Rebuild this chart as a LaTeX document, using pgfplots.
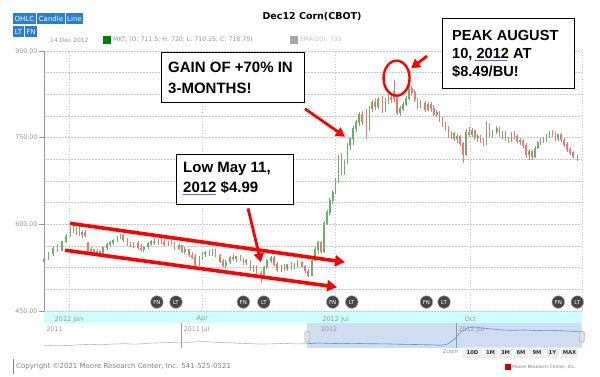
\documentclass[border=0pt]{standalone}
\usepackage{pgfplots}
\pgfplotsset{compat=1.18}
\usepackage{pgfplotstable}
\usetikzlibrary{arrows.meta,plotmarks}
\usepackage{fontspec}
\setmainfont{DejaVu Sans}
\newfontfamily\arial{Liberation Sans}
\definecolor{upc}{RGB}{105,178,105}
\definecolor{dnc}{RGB}{240,118,118}
\definecolor{gridc}{RGB}{200,200,200}
\definecolor{axc}{RGB}{150,150,150}
\definecolor{band}{RGB}{204,255,255}
\definecolor{selblue}{RGB}{206,222,240}
\definecolor{navblue}{RGB}{80,150,230}
\definecolor{btnblue}{RGB}{40,125,215}
\definecolor{mkgray}{RGB}{70,70,70}

\pgfplotstableread{
d o h l c
-17 535 542 532 540
-14 540 552 538 550
-11 550 562 546 558
-5 555 572 553 570
-2 570 583 567 580
1 580 595 578 592
5 588 596 582 594
9 583 590 576 587
15 553 560 548 556
19 549 557 546 554
23 550 562 548 560
26 560 567 556 565
28 565 572 561 569
30 569 575 564 572
33 572 580 570 578
35 578 584 574 581
44 562 569 559 567
51 556 563 552 561
54 561 569 558 567
56 567 573 563 571
61 568 575 565 573
68 565 572 562 570
75 558 566 555 563
79 553 560 548 557
89 531 545 528 542
91 542 552 539 549
93 549 554 544 552
98 548 558 545 555
107 529 538 525 535
110 535 545 532 543
114 541 546 535 544
121 533 540 529 537
126 523 530 518 527
133 510 528 507 526
135 526 540 523 538
138 538 546 533 543
145 521 530 517 527
149 523 532 520 530
154 525 533 522 531
156 531 538 527 535
166 512 540 510 538
168 538 560 536 557
170 557 572 549 568
174 552 605 550 602
176 602 625 598 621
178 621 645 616 641
180 641 660 636 656
182 656 680 652 676
184 676 720 672 716
188 690 712 686 708
190 708 740 705 736
192 736 752 729 748
194 748 770 738 766
196 766 781 760 776
198 776 795 770 791
205 765 805 762 801
207 801 816 795 812
211 803 820 800 816
216 797 818 794 814
218 814 825 808 820
226 794 805 788 801
228 801 812 797 808
230 808 822 804 818
232 818 842 815 836
240 806 815 801 810
245 799 812 796 808
251 790 798 785 794
261 755 762 748 758
265 749 756 740 752
271 720 765 718 760
275 756 766 752 762
279 750 756 742 753
285 740 778 738 770
289 757 764 750 760
292 760 770 756 766
296 756 762 748 759
302 745 760 742 757
308 744 750 738 746
314 720 730 712 726
318 718 735 715 732
320 732 745 730 742
322 742 750 738 746
326 744 756 742 754
328 754 762 750 759
334 748 757 745 755
347 711.5 720 710.25 718.75
}\upTable

\pgfplotstableread{
d o h l c
-8 558 566 552 555
3 592 602 585 588
7 594 597 580 583
11 587 590 578 580
13 568 570 550 553
17 556 558 545 549
21 554 556 547 550
37 581 584 570 573
40 573 576 562 565
42 565 570 560 562
47 567 571 556 559
49 559 566 553 556
58 571 576 565 568
63 573 577 566 569
65 569 574 562 565
70 570 574 564 567
72 567 570 556 558
77 563 565 550 553
82 557 558 544 547
84 547 552 540 543
86 543 548 528 531
96 552 556 545 548
100 555 557 543 546
103 546 549 533 536
105 536 540 526 529
112 543 548 537 541
117 544 547 536 539
119 539 542 530 533
124 537 539 520 523
128 527 530 512 515
131 515 520 499 510
140 543 545 528 531
142 531 534 518 521
147 527 531 519 523
152 530 534 521 525
159 535 537 524 527
161 527 530 516 519
163 519 522 508 512
172 568 572 548 552
186 716 724 686 690
200 791 796 772 778
203 790 800 748 765
209 812 818 798 803
214 816 822 792 797
220 820 826 810 815
222 830 850 812 818
224 818 822 790 794
234 836 840 822 828
236 828 832 812 815
238 815 818 800 806
243 810 813 795 799
247 808 812 795 800
249 800 806 787 790
253 794 797 778 781
255 781 785 768 772
257 772 778 762 766
259 766 770 750 755
263 758 760 745 749
267 752 754 735 740
269 740 742 706 720
273 760 768 752 756
277 762 764 746 750
281 753 755 740 744
283 744 750 736 740
287 770 776 752 757
294 766 768 752 756
298 759 762 744 748
300 748 752 740 745
304 757 762 748 752
306 752 756 740 744
310 746 748 732 736
312 736 740 714 720
316 726 728 712 718
324 746 752 740 744
330 759 764 752 756
332 756 760 744 748
336 755 758 742 746
338 746 749 734 738
340 738 742 726 730
342 730 734 720 724
344 724 727 714 718
}\dnTable

\pgfplotsset{
  candle/.style={only marks, mark=*, mark size=0pt, mark options={draw=none, fill=none},
    error bars/.cd, y dir=both, y explicit, error mark=none,
    error bar style={draw=#1, line width=0.6pt}},
  cbody/.style={only marks, mark=*, mark size=0pt, mark options={draw=none, fill=none},
    error bars/.cd, y dir=both, y explicit, error mark=none,
    error bar style={draw=#1, line width=1.6pt}},
}

\begin{document}
\begin{tikzpicture}[x=1pt,y=1pt]
\useasboundingbox (0,0) rectangle (600,-376);
\fill[white] (0,0) rectangle (600,-376);
% cyan band
\fill[band] (44,-311) rectangle (582,-323);

\begin{axis}[
  at={(44pt,-311pt)}, anchor=south west,
  width=538pt, height=260pt, scale only axis,
  xmin=-17.1, xmax=350.2, ymin=450, ymax=900,
  axis line style={draw=none},
  clip=false,
  xtick={0,91,182,274},
  xticklabels={2012 Jan,Apr,2012 Jul,Oct},
  xmajorgrids,
  ytick={450,600,750,900},
  yticklabels={450.00,600.00,750.00,900.00},
  minor ytick={487.5,525,562.5,637.5,675,712.5,787.5,825,862.5},
  ymajorgrids, yminorgrids,
  grid style={gridc, dash pattern=on 1.5pt off 1.5pt, line width=0.6pt},
  minor grid style={gridc, dash pattern=on 1.5pt off 1.5pt, line width=0.6pt},
  xtick style={draw=none},
  ytick style={axc, line width=0.5pt},
  ytick pos=left, xtick pos=bottom, tick align=outside,
  major tick length=5pt, minor tick length=0pt,
  x tick label style={font=\fontsize{6.5}{7}\selectfont, text=axc, anchor=north, inner sep=0pt},
  y tick label style={font=\fontsize{6.3}{7}\selectfont, text=axc, anchor=east, inner sep=1.5pt},
]
\draw[axc, line width=0.6pt] (rel axis cs:0,0) -- (rel axis cs:0,1);
\draw[gridc, dash pattern=on 1.5pt off 1.5pt, line width=0.6pt] (rel axis cs:1,0) -- (rel axis cs:1,1);

% wicks
\addplot[candle=upc]
  table[x=d, y expr={(\thisrow{h}+\thisrow{l})/2}, y error expr={(\thisrow{h}-\thisrow{l})/2}] {\upTable};
\addplot[candle=dnc]
  table[x=d, y expr={(\thisrow{h}+\thisrow{l})/2}, y error expr={(\thisrow{h}-\thisrow{l})/2}] {\dnTable};
% bodies
\addplot[cbody=upc]
  table[x=d, y expr={(\thisrow{o}+\thisrow{c})/2}, y error expr={abs(\thisrow{c}-\thisrow{o})/2+0.6}] {\upTable};
\addplot[cbody=dnc]
  table[x=d, y expr={(\thisrow{o}+\thisrow{c})/2}, y error expr={abs(\thisrow{c}-\thisrow{o})/2+0.6}] {\dnTable};

% FN / LT markers
\addplot[only marks, mark=*, mark size=6.3pt, mark options={fill=mkgray, draw=black!35, line width=0.5pt}]
  coordinates {(60,465.5) (73,465.5) (119,465.5) (133,465.5) (180,465.5) (193,465.5) (244,465.5) (256,465.5) (334,465.5) (347,465.5)};
\addplot[only marks, mark=text, text mark={FN}, text mark as node=true,
  text mark style={font=\fontsize{5.5}{6}\selectfont, text=white, inner sep=0pt}]
  coordinates {(60,465.5) (119,465.5) (180,465.5) (244,465.5) (334,465.5)};
\addplot[only marks, mark=text, text mark={LT}, text mark as node=true,
  text mark style={font=\fontsize{5.5}{6}\selectfont, text=white, inner sep=0pt}]
  coordinates {(73,465.5) (133,465.5) (193,465.5) (256,465.5) (347,465.5)};

% red annotations
\draw[red, line width=3.6pt, -{Triangle[length=10pt,width=11pt]}] (axis cs:0.7,601.7) -- (axis cs:188.4,534.5);
\draw[red, line width=3.6pt, -{Triangle[length=10pt,width=11pt]}] (axis cs:-2.7,555.2) -- (axis cs:183,491.4);
\draw[red, line width=2.8pt, -{Triangle[length=9pt,width=10pt]}] (axis cs:161.1,800) -- (axis cs:188.4,751.7);
\draw[red, line width=2.8pt, -{Triangle[length=9pt,width=10pt]}] (axis cs:122.2,627.6) -- (axis cs:131,534.5);
\draw[red, line width=2.8pt, -{Triangle[length=9pt,width=10pt]}] (axis cs:244.4,891.3) -- (axis cs:233.5,870);
\draw[red, line width=2.4pt] (axis cs:223.6,853) ellipse [x radius=13pt, y radius=17.5pt];
\end{axis}

% navigator
\begin{axis}[
  at={(44pt,-348pt)}, anchor=south west,
  width=538pt, height=25pt, scale only axis,
  xmin=0, xmax=23.5, ymin=420, ymax=880,
  hide axis, clip=false,
]
\fill[selblue] (axis cs:11.5,420) rectangle (axis cs:23.5,880);
\draw[gray!80, line width=0.5pt] (axis cs:6,420) -- (axis cs:6,880);
\draw[gray!80, line width=0.5pt] (axis cs:18,420) -- (axis cs:18,880);
\addplot[gray!55, line width=0.6pt] coordinates {
(0,460)(0.5,470)(1,466)(1.5,478)(2,488)(2.5,480)(3,492)(3.5,500)(4,490)(4.5,505)(5,515)(5.5,522)(6,512)(6.5,530)(7,538)(7.5,525)(8,518)(8.5,508)(9,500)(9.5,492)(10,498)(10.5,505)(11,495)(11.5,500)};
\addplot[navblue, line width=0.6pt] coordinates {
(11.5,500)(12,512)(12.5,505)(13,500)(13.5,506)(14,500)(14.5,498)(15,495)(15.5,490)(16,486)(16.5,482)(17,478)(17.3,468)(17.6,488)(17.9,570)(18.2,710)(18.5,790)(18.8,805)(19.1,790)(19.5,772)(20,752)(20.5,745)(21,752)(21.5,740)(22,746)(22.5,740)(23,730)(23.5,716)};
\node[anchor=west, font=\fontsize{6.3}{7}\selectfont, text=axc, inner sep=0pt] at (axis cs:0.1,760) {2011};
\node[anchor=west, font=\fontsize{6.3}{7}\selectfont, text=axc, inner sep=0pt] at (axis cs:6.1,760) {2011 Jul};
\node[anchor=west, font=\fontsize{6.3}{7}\selectfont, text=axc, inner sep=0pt] at (axis cs:12.1,760) {2012};
\node[anchor=west, font=\fontsize{6.3}{7}\selectfont, text=axc, inner sep=0pt] at (axis cs:18.1,760) {2012 Jul};
\node[draw=gray!80, fill=gray!25, rounded corners=1.5pt, minimum width=5pt, minimum height=11pt, inner sep=0pt] at (axis cs:11.5,630) {};
\node[draw=gray!80, fill=gray!25, rounded corners=1.5pt, minimum width=5pt, minimum height=11pt, inner sep=0pt] at (axis cs:23.5,630) {};
\end{axis}

% top buttons
\fill[btnblue] (13,-13) rectangle (36,-24);
\fill[btnblue] (37,-13) rectangle (65,-24);
\fill[btnblue] (66,-13) rectangle (83,-24);
\fill[btnblue] (13,-26) rectangle (24,-37);
\fill[btnblue] (25,-26) rectangle (37,-37);
\begin{scope}[every node/.style={text=white, font=\fontsize{7}{8}\selectfont, inner sep=0pt}]
\node at (24.5,-18.5) {OHLC};
\node at (51,-18.5) {Candle};
\node at (74.5,-18.5) {Line};
\node at (18.5,-31.5) {LT};
\node at (31,-31.5) {FN};
\end{scope}

% title and info line
\node[font=\fontsize{9.5}{11}\bfseries, inner sep=0pt] at (312,-17) {Dec12 Corn(CBOT)};
\node[anchor=west, font=\fontsize{6}{7}\selectfont, text=axc, inner sep=0pt] at (50,-40) {14 Dec 2012};
\fill[green!50!black] (103,-36) rectangle (111,-44);
\node[anchor=west, font=\fontsize{6.2}{7}\selectfont, text=axc, inner sep=0pt] at (113,-40) {MKT: (O: 711.5; H: 720; L: 710.25; C: 718.75)};
\fill[gray!70] (290,-36) rectangle (298,-44);
\node[anchor=west, font=\fontsize{6}{7}\selectfont, text=gray!50, inner sep=0pt] at (300,-40) {EMA(20): 735};

% annotation boxes
\draw[black, line width=1pt, fill=white] (161,-52) rectangle (304,-102);
\node[anchor=base west, font=\arial\bfseries\fontsize{15}{18}\selectfont, inner sep=0pt] at (168,-72) {GAIN OF +70\% IN};
\node[anchor=base west, font=\arial\bfseries\fontsize{15}{18}\selectfont, inner sep=0pt] at (168,-93) {3-MONTHS!};

\draw[black, line width=1pt, fill=white] (176,-154) rectangle (293,-204);
\node[anchor=base west, font=\arial\bfseries\fontsize{15}{18}\selectfont, inner sep=0pt] at (183,-172) {Low May 11,};
\node[anchor=base west, font=\arial\bfseries\fontsize{15}{18}\selectfont, inner sep=0pt] at (183,-192) {2012 \$4.99};
\draw[blue!60, line width=0.8pt] (183,-194.5) -- (216,-194.5);

\draw[black, line width=1pt, fill=white] (442,-18) rectangle (574,-88);
\node[anchor=base west, font=\arial\bfseries\fontsize{14.6}{18}\selectfont, inner sep=0pt] at (452,-40) {PEAK AUGUST};
\node[anchor=base west, font=\arial\bfseries\fontsize{14.6}{18}\selectfont, inner sep=0pt] at (452,-58) {10, 2012 AT};
\node[anchor=base west, font=\arial\bfseries\fontsize{14.6}{18}\selectfont, inner sep=0pt] at (452,-76) {\$8.49/BU!};
\draw[blue!60, line width=0.8pt] (475,-60.5) -- (507,-60.5);

% zoom buttons
\node[anchor=east, font=\fontsize{5.5}{6}\selectfont, text=axc, inner sep=0pt] at (459,-352) {Zoom};
\begin{scope}[every node/.style={font=\fontsize{5.3}{6}\bfseries, text=black!80, inner sep=0pt}]
\foreach \a/\b/\t in {463/482/10D, 484/497/1M, 499/512/3M, 514/528/6M, 530/544/9M, 546/559/1Y, 561/578/MAX}{
  \fill[black!7] (\a,-347) rectangle (\b,-358);
  \node at ({(\a+\b)/2},-352.5) {\t};
}
\end{scope}

% footer
\draw[gray, line width=0.8pt] (13.5,-359) -- (13.5,-374);
\node[anchor=west, font=\fontsize{7}{8}\selectfont, text=gray, inner sep=0pt] at (16,-367) {Copyright ©2021 Moore Research Center, Inc. 541-525-0521};
\fill[red!80!black] (505,-364) rectangle (511,-370);
\node[anchor=west, font=\fontsize{4.5}{5}\selectfont, text=gray, inner sep=0pt] at (512,-367) {Moore Research Center, Inc.};
\end{tikzpicture}
\end{document}
